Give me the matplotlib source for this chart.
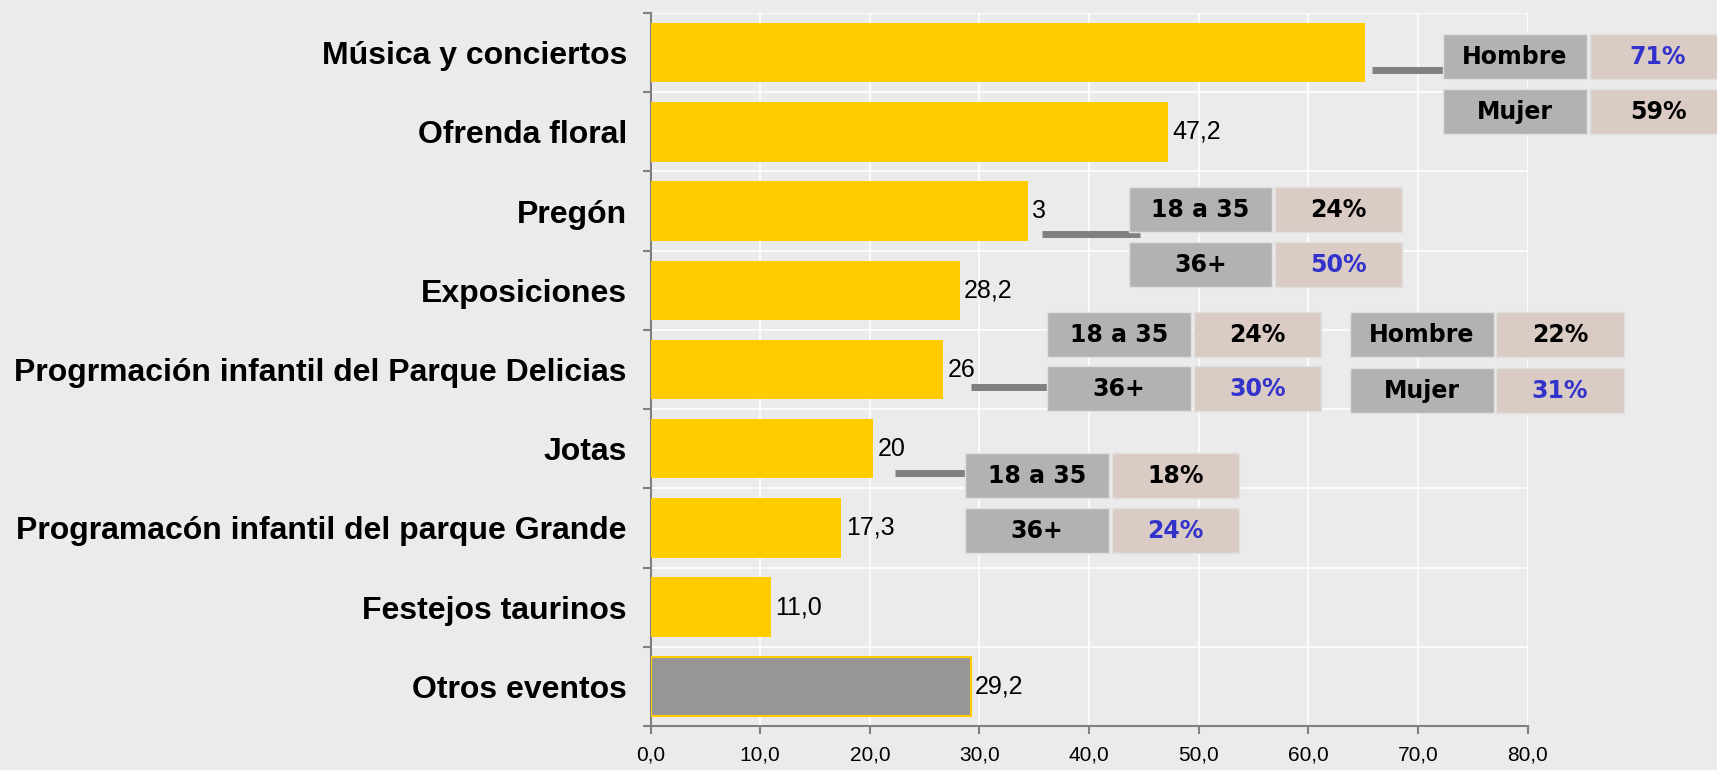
import numpy as np
import matplotlib.pyplot as plt
from matplotlib.patches import Rectangle

categories = ['Música y conciertos', 'Ofrenda floral', 'Pregón', 'Exposiciones',
              'Progrmación infantil del Parque Delicias', 'Jotas',
              'Programacón infantil del parque Grande', 'Festejos taurinos', 'Otros eventos']
values = [65.2, 47.2, 34.4, 28.2, 26.7, 20.3, 17.4, 11.0, 29.2]
value_labels = ['', '47,2', '3', '28,2', '26', '20', '17,3', '11,0', '29,2']
xticks = [0, 10, 20, 30, 40, 50, 60, 70, 80]
xtick_labels = ['0,0', '10,0', '20,0', '30,0', '40,0', '50,0', '60,0', '70,0', '80,0']

# side tables: (row labels, percentages, highlighted rows)
tab_musica = (['Hombre', 'Mujer'], ['71%', '59%'], [True, False])
tab_pregon = (['18 a 35', '36+'], ['24%', '50%'], [False, True])
tab_delicias_edad = (['18 a 35', '36+'], ['24%', '30%'], [False, True])
tab_delicias_sexo = (['Hombre', 'Mujer'], ['22%', '31%'], [False, True])
tab_jotas = (['18 a 35', '36+'], ['18%', '24%'], [False, True])

BG = '#EBEBEB'
YELLOW = '#FFCC00'
GREY_BAR = '#969696'
CELL_LBL = '#B2B2B2'
CELL_PCT = '#DACBC4'
BLUE = '#3333CC'
LINE = '#808080'

fig = plt.figure(figsize=(17.17, 7.7), dpi=100, facecolor=BG)
ax = fig.add_axes([0.3789, 0.0571, 0.5108, 0.926])
ax.set_facecolor(BG)

y = np.arange(len(categories))
colors = [YELLOW] * (len(categories) - 1) + [GREY_BAR]
ax.barh(y, values, height=0.75, color=colors, zorder=3)
ax.barh(y[-1], values[-1], height=0.75, color=GREY_BAR, edgecolor=YELLOW, linewidth=1.5, zorder=3)

for yi, v, lab in zip(y, values, value_labels):
    if lab:
        ax.text(v + 0.4, yi, lab, va='center', ha='left', fontsize=18,
                family='Liberation Sans', color='black', zorder=4)

ax.set_xlim(0, 80)
ax.set_ylim(len(categories) - 0.5, -0.5)
ax.set_xticks(xticks)
ax.set_xticklabels(xtick_labels, family='Liberation Sans', fontsize=15)
ax.set_yticks(y)
ax.set_yticklabels(categories, family='Liberation Sans', fontweight='bold', fontsize=23)
ax.set_yticks(np.arange(len(categories) + 1) - 0.5, minor=True)
ax.tick_params(axis='y', which='major', length=0, pad=17)
ax.tick_params(axis='y', which='minor', length=6, width=1.5, color=LINE)
ax.tick_params(axis='x', length=6, width=1.5, color=LINE, pad=8)

ax.grid(axis='x', color='white', linewidth=1.2, zorder=0)
ax.grid(axis='y', which='minor', color='white', linewidth=1.2, zorder=0)
for s in ['top', 'right']:
    ax.spines[s].set_visible(False)
for s in ['left', 'bottom']:
    ax.spines[s].set_color(LINE)
    ax.spines[s].set_linewidth(1.5)


def draw_table(tab, x0, y_rows, w_lbl=13.1, w_pct=11.6, h=0.57, gap=0.25):
    labels, pcts, hl = tab
    for yr, lab, pct, h_on in zip(y_rows, labels, pcts, hl):
        ax.add_patch(Rectangle((x0, yr), w_lbl, h, facecolor=CELL_LBL, edgecolor='#E0E0E0',
                               linewidth=1, clip_on=False, zorder=5))
        ax.add_patch(Rectangle((x0 + w_lbl + gap, yr), w_pct, h, facecolor=CELL_PCT,
                               edgecolor='#E0E0E0', linewidth=1, clip_on=False, zorder=5))
        ax.text(x0 + w_lbl / 2, yr + h / 2, lab, ha='center', va='center', fontsize=17,
                fontweight='bold', family='DejaVu Sans', clip_on=False, zorder=6)
        ax.text(x0 + w_lbl + gap + w_pct / 2, yr + h / 2, pct, ha='center', va='center',
                fontsize=17, fontweight='bold', family='DejaVu Sans',
                color=BLUE if h_on else 'black', clip_on=False, zorder=6)


def connector(x1, x2, yc):
    ax.plot([x1, x2], [yc, yc], color=LINE, linewidth=5, solid_capstyle='butt',
            clip_on=False, zorder=4)


connector(65.8, 72.5, 0.22)
draw_table(tab_musica, 72.3, [-0.233, 0.462], w_pct=12.5)

connector(35.7, 44.6, 2.29)
draw_table(tab_pregon, 43.6, [1.697, 2.39])

connector(29.2, 36.3, 4.22)
draw_table(tab_delicias_edad, 36.2, [3.275, 3.957])
draw_table(tab_delicias_sexo, 63.8, [3.275, 3.98])

connector(22.3, 28.8, 5.31)
draw_table(tab_jotas, 28.7, [5.056, 5.75])

fig.savefig('out.png', dpi=100, facecolor=BG)
